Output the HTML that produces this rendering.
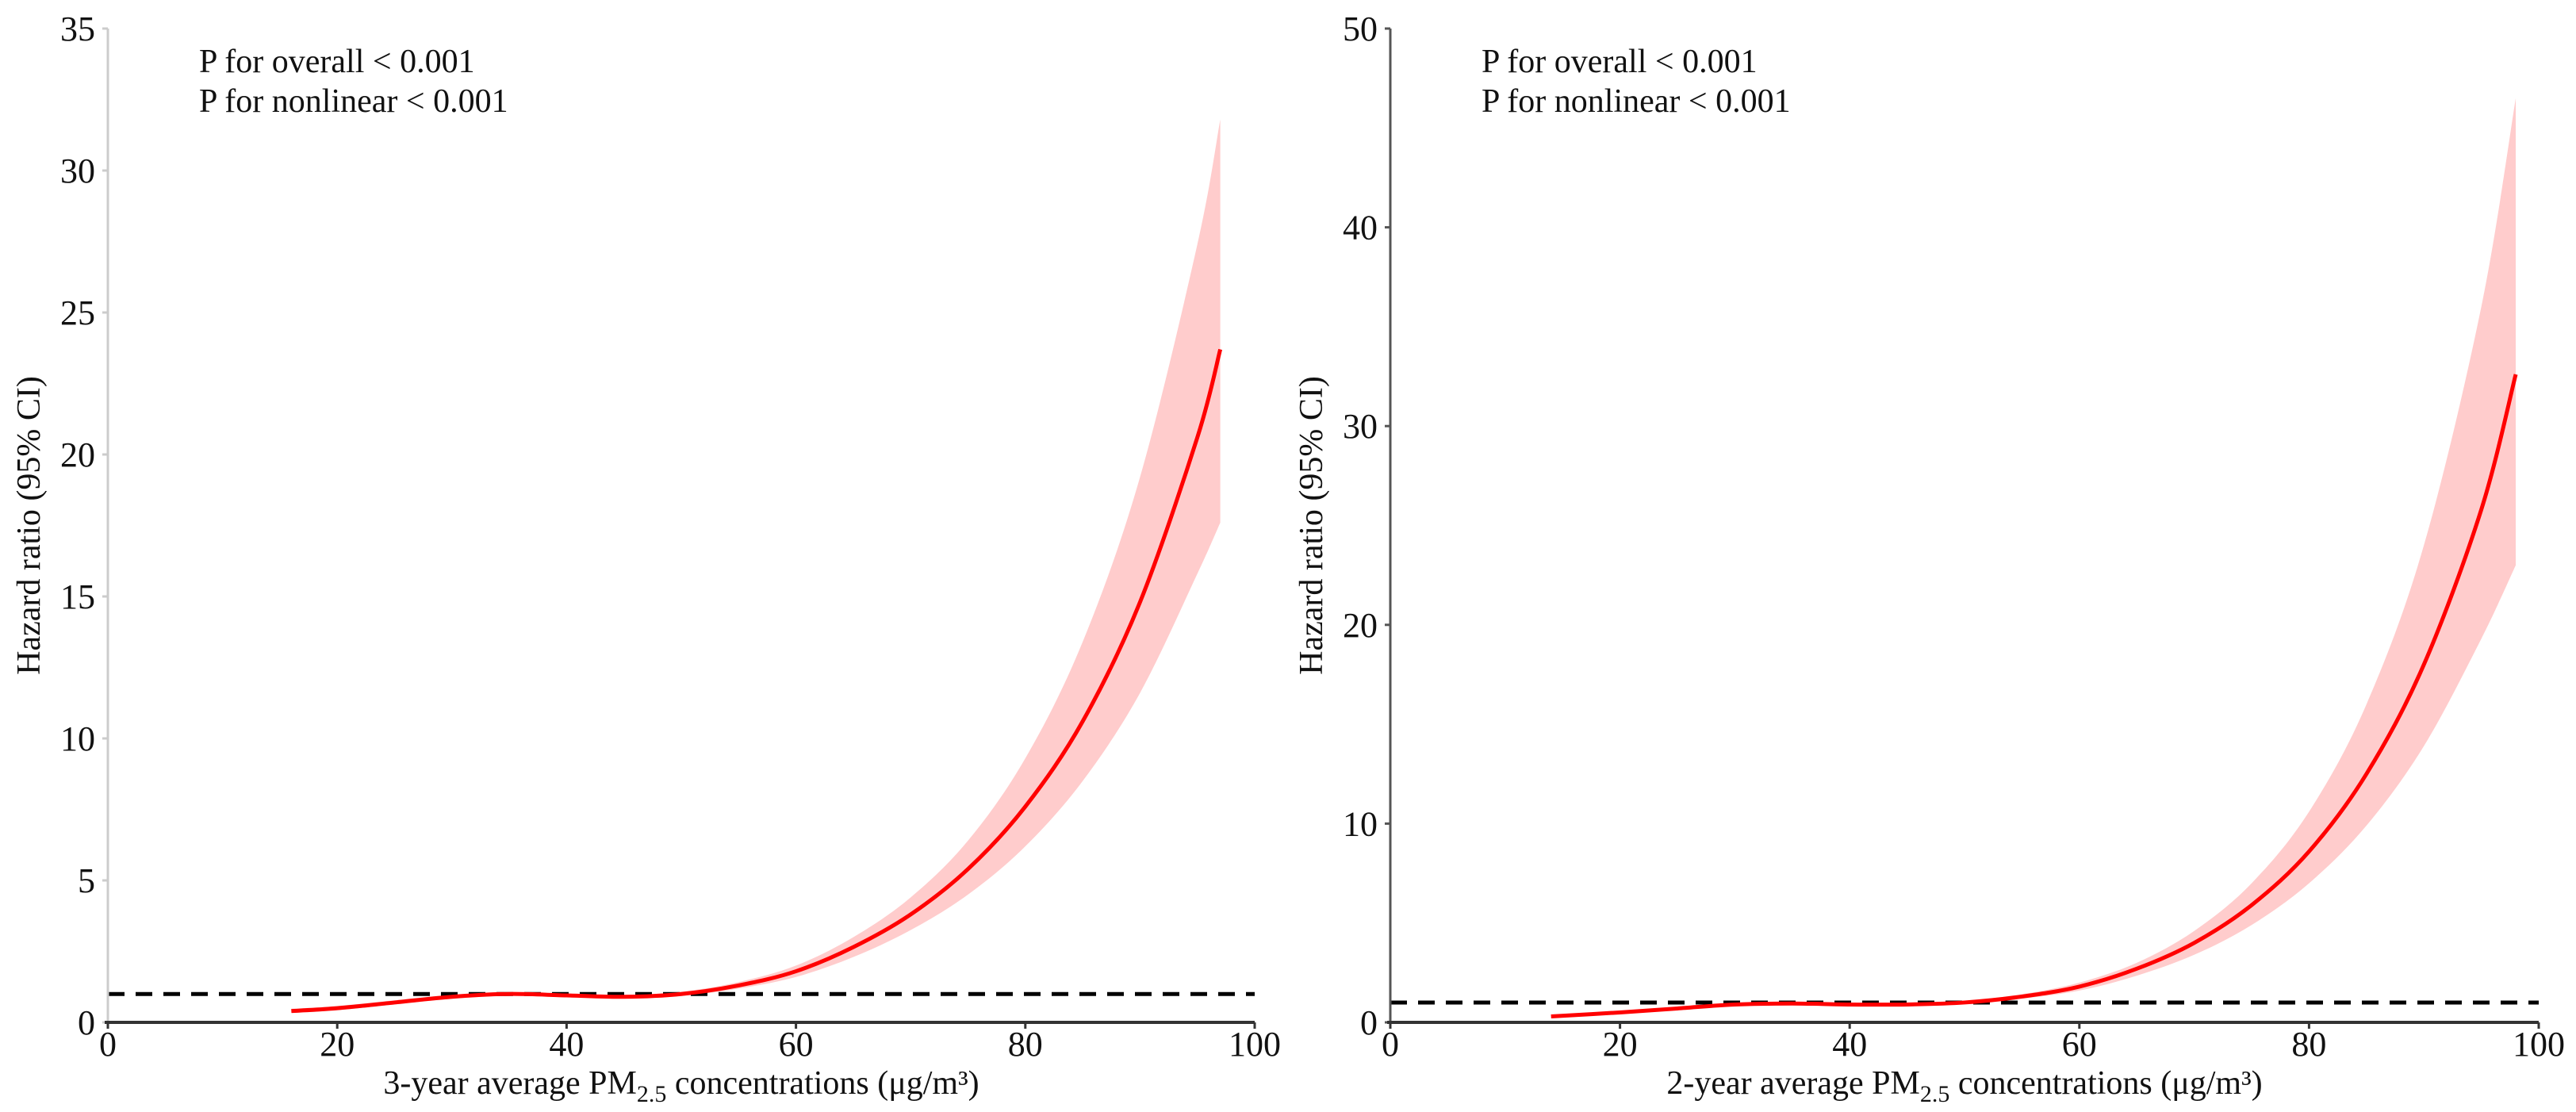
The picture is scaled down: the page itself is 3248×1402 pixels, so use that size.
<!DOCTYPE html>
<html><head><meta charset="utf-8"><style>
html,body{margin:0;padding:0;background:#fff;}
svg{display:block;font-family:"Liberation Serif",serif;}
</style></head><body>
<svg id="chart" width="3248" height="1402" viewBox="0 0 3248 1402"></svg>
<script>
// ---- Left panel data (3-year) ----
const leftX = [16,20,25,30,35,40,45,50,55,60,65,70,75,80,85,90,95,97];
const leftHR = [0.4,0.5,0.7,0.9,1.0,0.95,0.9,1.0,1.3,1.8,2.65,3.8,5.4,7.6,10.6,14.8,20.6,23.7];
const leftUpper = [0.48,0.58,0.78,0.97,1.06,1.01,0.97,1.08,1.42,2.0,3.0,4.4,6.4,9.3,13.4,19.2,27.4,31.8];
const leftLower = [0.33,0.43,0.63,0.83,0.94,0.89,0.84,0.93,1.19,1.6,2.3,3.25,4.5,6.2,8.5,11.6,15.8,17.6];
const leftYTicks = [0,5,10,15,20,25,30,35];
// ---- Right panel data (2-year) ----
const rightX = [14,20,25,30,35,40,45,50,55,60,65,70,75,80,85,90,95,98];
const rightHR = [0.3,0.5,0.7,0.9,0.95,0.9,0.9,1.0,1.3,1.8,2.7,4.0,5.9,8.6,12.5,18.0,25.8,32.6];
const rightUpper = [0.38,0.58,0.78,0.97,1.01,0.96,0.97,1.08,1.42,2.0,3.0,4.6,7.0,10.6,16.0,24.0,36.0,46.5];
const rightLower = [0.22,0.43,0.63,0.83,0.89,0.84,0.84,0.93,1.19,1.6,2.35,3.4,4.9,7.0,9.9,13.9,19.3,23.0];
const rightYTicks = [0,10,20,30,40,50];
const xTicks = [0,20,40,60,80,100];

const NS="http://www.w3.org/2000/svg";
const svg=document.getElementById('chart');
function mk(tag,attrs,parent){const e=document.createElementNS(NS,tag);for(const k in attrs)e.setAttribute(k,attrs[k]);(parent||svg).appendChild(e);return e;}

function smoothPath(pts){
  let d="M"+pts[0][0]+","+pts[0][1];
  for(let i=0;i<pts.length-1;i++){
    const p0=pts[i-1]||pts[i],p1=pts[i],p2=pts[i+1],p3=pts[i+2]||p2;
    const c1=[p1[0]+(p2[0]-p0[0])/6,p1[1]+(p2[1]-p0[1])/6];
    const c2=[p2[0]-(p3[0]-p1[0])/6,p2[1]-(p3[1]-p1[1])/6];
    d+=" C"+c1[0]+","+c1[1]+" "+c2[0]+","+c2[1]+" "+p2[0]+","+p2[1];
  }
  return d;
}

function panel(cfg){
  const g=mk('g',{});
  
  
  const sx=v=>cfg.x0+(cfg.x1-cfg.x0)*v/100;
  const sy=v=>cfg.y0-(cfg.y0-cfg.y1)*v/cfg.ymax;
  const up=cfg.xs.map((x,i)=>[sx(x),sy(cfg.upper[i])]);
  const lo=cfg.xs.map((x,i)=>[sx(x),sy(cfg.lower[i])]).reverse();
  const upD=smoothPath(up);
  const loD=smoothPath(lo).replace(/^M/,"L");
  const band=mk('path',{d:upD+" "+loD+" Z",fill:"#ffcccc",stroke:"none"},g);
  
  
  const ref=mk('line',{x1:sx(0),x2:sx(100),y1:sy(1),y2:sy(1),stroke:"#000","stroke-width":5,"stroke-dasharray":"21,14"},g);
  
  
  const pts=cfg.xs.map((x,i)=>[sx(x),sy(cfg.hr[i])]);
  const line=mk('path',{d:smoothPath(pts),fill:"none",stroke:"#ff0000","stroke-width":5},g);
  
  
  const ya=mk('line',{x1:cfg.x0,x2:cfg.x0,y1:sy(cfg.ymax),y2:cfg.y0,stroke:cfg.yAxisColor,"stroke-width":3},g);
  
  
  cfg.yt.forEach(t=>{
    mk('line',{x1:cfg.x0-7,x2:cfg.x0,y1:sy(t),y2:sy(t),stroke:cfg.yAxisColor,"stroke-width":3},g);
    const tx=mk('text',{x:cfg.x0-16,y:sy(t)+15,"text-anchor":"end","font-size":44,fill:"#111"},g);
    tx.textContent=t;
    
    
  });
  const xa=mk('line',{x1:sx(0)-4,x2:sx(100),y1:cfg.y0,y2:cfg.y0,stroke:"#333","stroke-width":4},g);
  
  
  xTicks.forEach(t=>{
    mk('line',{x1:sx(t),x2:sx(t),y1:cfg.y0,y2:cfg.y0+8,stroke:"#333","stroke-width":3},g);
    const tx=mk('text',{x:sx(t),y:cfg.y0+42,"text-anchor":"middle","font-size":44,fill:"#111"},g);
    tx.textContent=t;
    
    
  });
  const xt=mk('text',{x:(cfg.x0+cfg.x1)/2,y:cfg.y0+90,"text-anchor":"middle","font-size":42,fill:"#111"},g);
  xt.innerHTML=cfg.prefix+' average PM<tspan font-size="30" dy="10">2.5</tspan><tspan dy="-10"> concentrations (μg/m³)</tspan>';
  
  
  const yy=(cfg.y0+cfg.y1)/2;
  const ytt=mk('text',{x:cfg.x0-86,y:yy,"text-anchor":"middle","font-size":42,fill:"#111",transform:"rotate(-90 "+(cfg.x0-86)+" "+yy+")"},g);
  ytt.textContent="Hazard ratio (95% CI)";
  
  
  const a1=mk('text',{x:cfg.x0+115,y:91,"font-size":42,fill:"#111"},g);
  a1.textContent="P for overall < 0.001";
  
  
  const a2=mk('text',{x:cfg.x0+115,y:141,"font-size":42,fill:"#111"},g);
  a2.textContent="P for nonlinear < 0.001";
  
  
}

panel({name:'left-panel-3-year',x0:136,x1:1582,y0:1289,y1:36,ymax:35,xs:leftX,hr:leftHR,upper:leftUpper,lower:leftLower,yt:leftYTicks,yAxisColor:"#cccccc",prefix:"3-year"});
panel({name:'right-panel-2-year',x0:1753,x1:3201,y0:1289,y1:36,ymax:50,xs:rightX,hr:rightHR,upper:rightUpper,lower:rightLower,yt:rightYTicks,yAxisColor:"#555555",prefix:"2-year"});
</script>
</body></html>
